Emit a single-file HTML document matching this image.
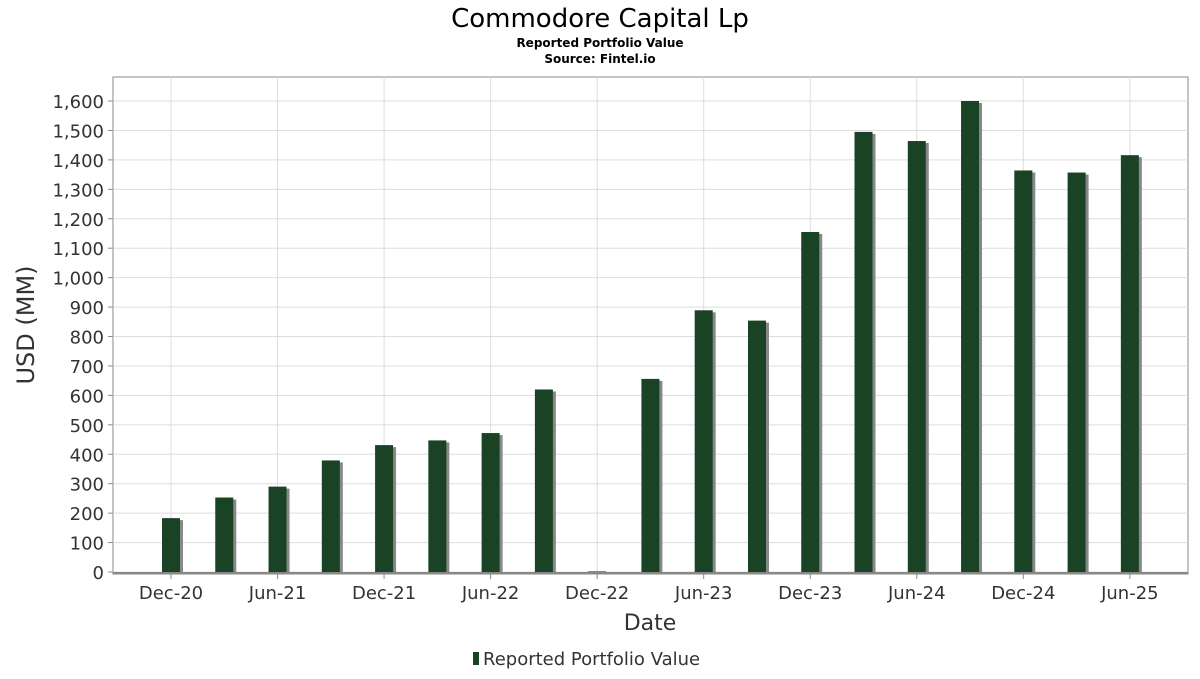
<!DOCTYPE html>
<html><head><meta charset="utf-8"><style>
body{margin:0;background:#fff;font-family:"DejaVu Sans","Liberation Sans",sans-serif;}
</style></head><body>
<svg id="chart" width="1200" height="675" xmlns="http://www.w3.org/2000/svg" font-family="DejaVu Sans, Liberation Sans, sans-serif">
<rect width="1200" height="675" fill="#fff"/>
<text x="600" y="27" text-anchor="middle" font-size="26" fill="#000">Commodore Capital Lp</text>
<text x="600" y="47" text-anchor="middle" font-size="12" font-weight="bold" fill="#000">Reported Portfolio Value</text>
<text x="600" y="63" text-anchor="middle" font-size="12" font-weight="bold" fill="#000">Source: Fintel.io</text>
<rect x="113" y="77" width="1075" height="497" fill="#fff" stroke="#888" stroke-width="1"/>
<g id="grid"></g>
<g id="bars"></g>
<g id="axes"></g>
<text transform="translate(34,325) rotate(-90)" text-anchor="middle" font-size="24" fill="#333">USD (MM)</text>
<text x="650" y="630" text-anchor="middle" font-size="22" fill="#333">Date</text>
<g>
<rect x="473" y="652" width="6" height="13" fill="#1a4224"/>
<text x="483" y="665" font-size="18" fill="#333">Reported Portfolio Value</text>
</g>
</svg>
<script>
const dates=["Dec-20","Mar-21","Jun-21","Sep-21","Dec-21","Mar-22","Jun-22","Sep-22","Dec-22","Mar-23","Jun-23","Sep-23","Dec-23","Mar-24","Jun-24","Sep-24","Dec-24","Mar-25","Jun-25"];
const values=[183,253,290,379,431,447,472,620,2,656,889,854,1155,1495,1464,1600,1364,1357,1416];
const yTicks=[0,100,200,300,400,500,600,700,800,900,1000,1100,1200,1300,1400,1500,1600];
const xTickLabels=["Dec-20","Jun-21","Dec-21","Jun-22","Dec-22","Jun-23","Dec-23","Jun-24","Dec-24","Jun-25"];
const NS="http://www.w3.org/2000/svg";
const x0=171,step=53.27;
function xPos(i){return x0+i*step;}
function yPos(v){return 572-v*(471/1600);}
function mk(t,a,parent){const e=document.createElementNS(NS,t);for(const k in a)e.setAttribute(k,a[k]);parent.appendChild(e);return e;}
const grid=document.getElementById('grid'),bars=document.getElementById('bars'),axes=document.getElementById('axes');
yTicks.forEach(v=>{
 const y=yPos(v);
 const l=mk('line',{x1:113,x2:1188,y1:y,y2:y,stroke:'#ddd','stroke-width':1},grid);
 
 
 const tk=mk('line',{x1:108,x2:113,y1:y,y2:y,stroke:'#888'},axes);
 
 
 const t=mk('text',{x:104,y:y+7,'text-anchor':'end','font-size':18,fill:'#333'},axes);
 t.textContent=v.toLocaleString('en-US');
 
 
});
xTickLabels.forEach(lbl=>{
 const i=dates.indexOf(lbl);const x=xPos(i);
 const l=mk('line',{x1:x,x2:x,y1:77,y2:572,stroke:'#ddd'},grid);
 
 
 const tk=mk('line',{x1:x,x2:x,y1:574,y2:579,stroke:'#888'},axes);
 
 
 const t=mk('text',{x:x,y:599,'text-anchor':'middle','font-size':18,fill:'#333'},axes);
 t.textContent=lbl;
 
 
});
const ax=mk('line',{x1:113,x2:1188,y1:573,y2:573,stroke:'#888','stroke-width':2},axes);


values.forEach((v,i)=>{
 const x=xPos(i)-9,y=yPos(v),h=572-y;
 const s=mk('rect',{x:x+3,y:y+2,width:18,height:Math.max(h-2,0),fill:'#888'},bars);
 
 
 const b=mk('rect',{x:x,y:y,width:18,height:h,fill:'#1a4224'},bars);
 
 
});
</script>
</body></html>
